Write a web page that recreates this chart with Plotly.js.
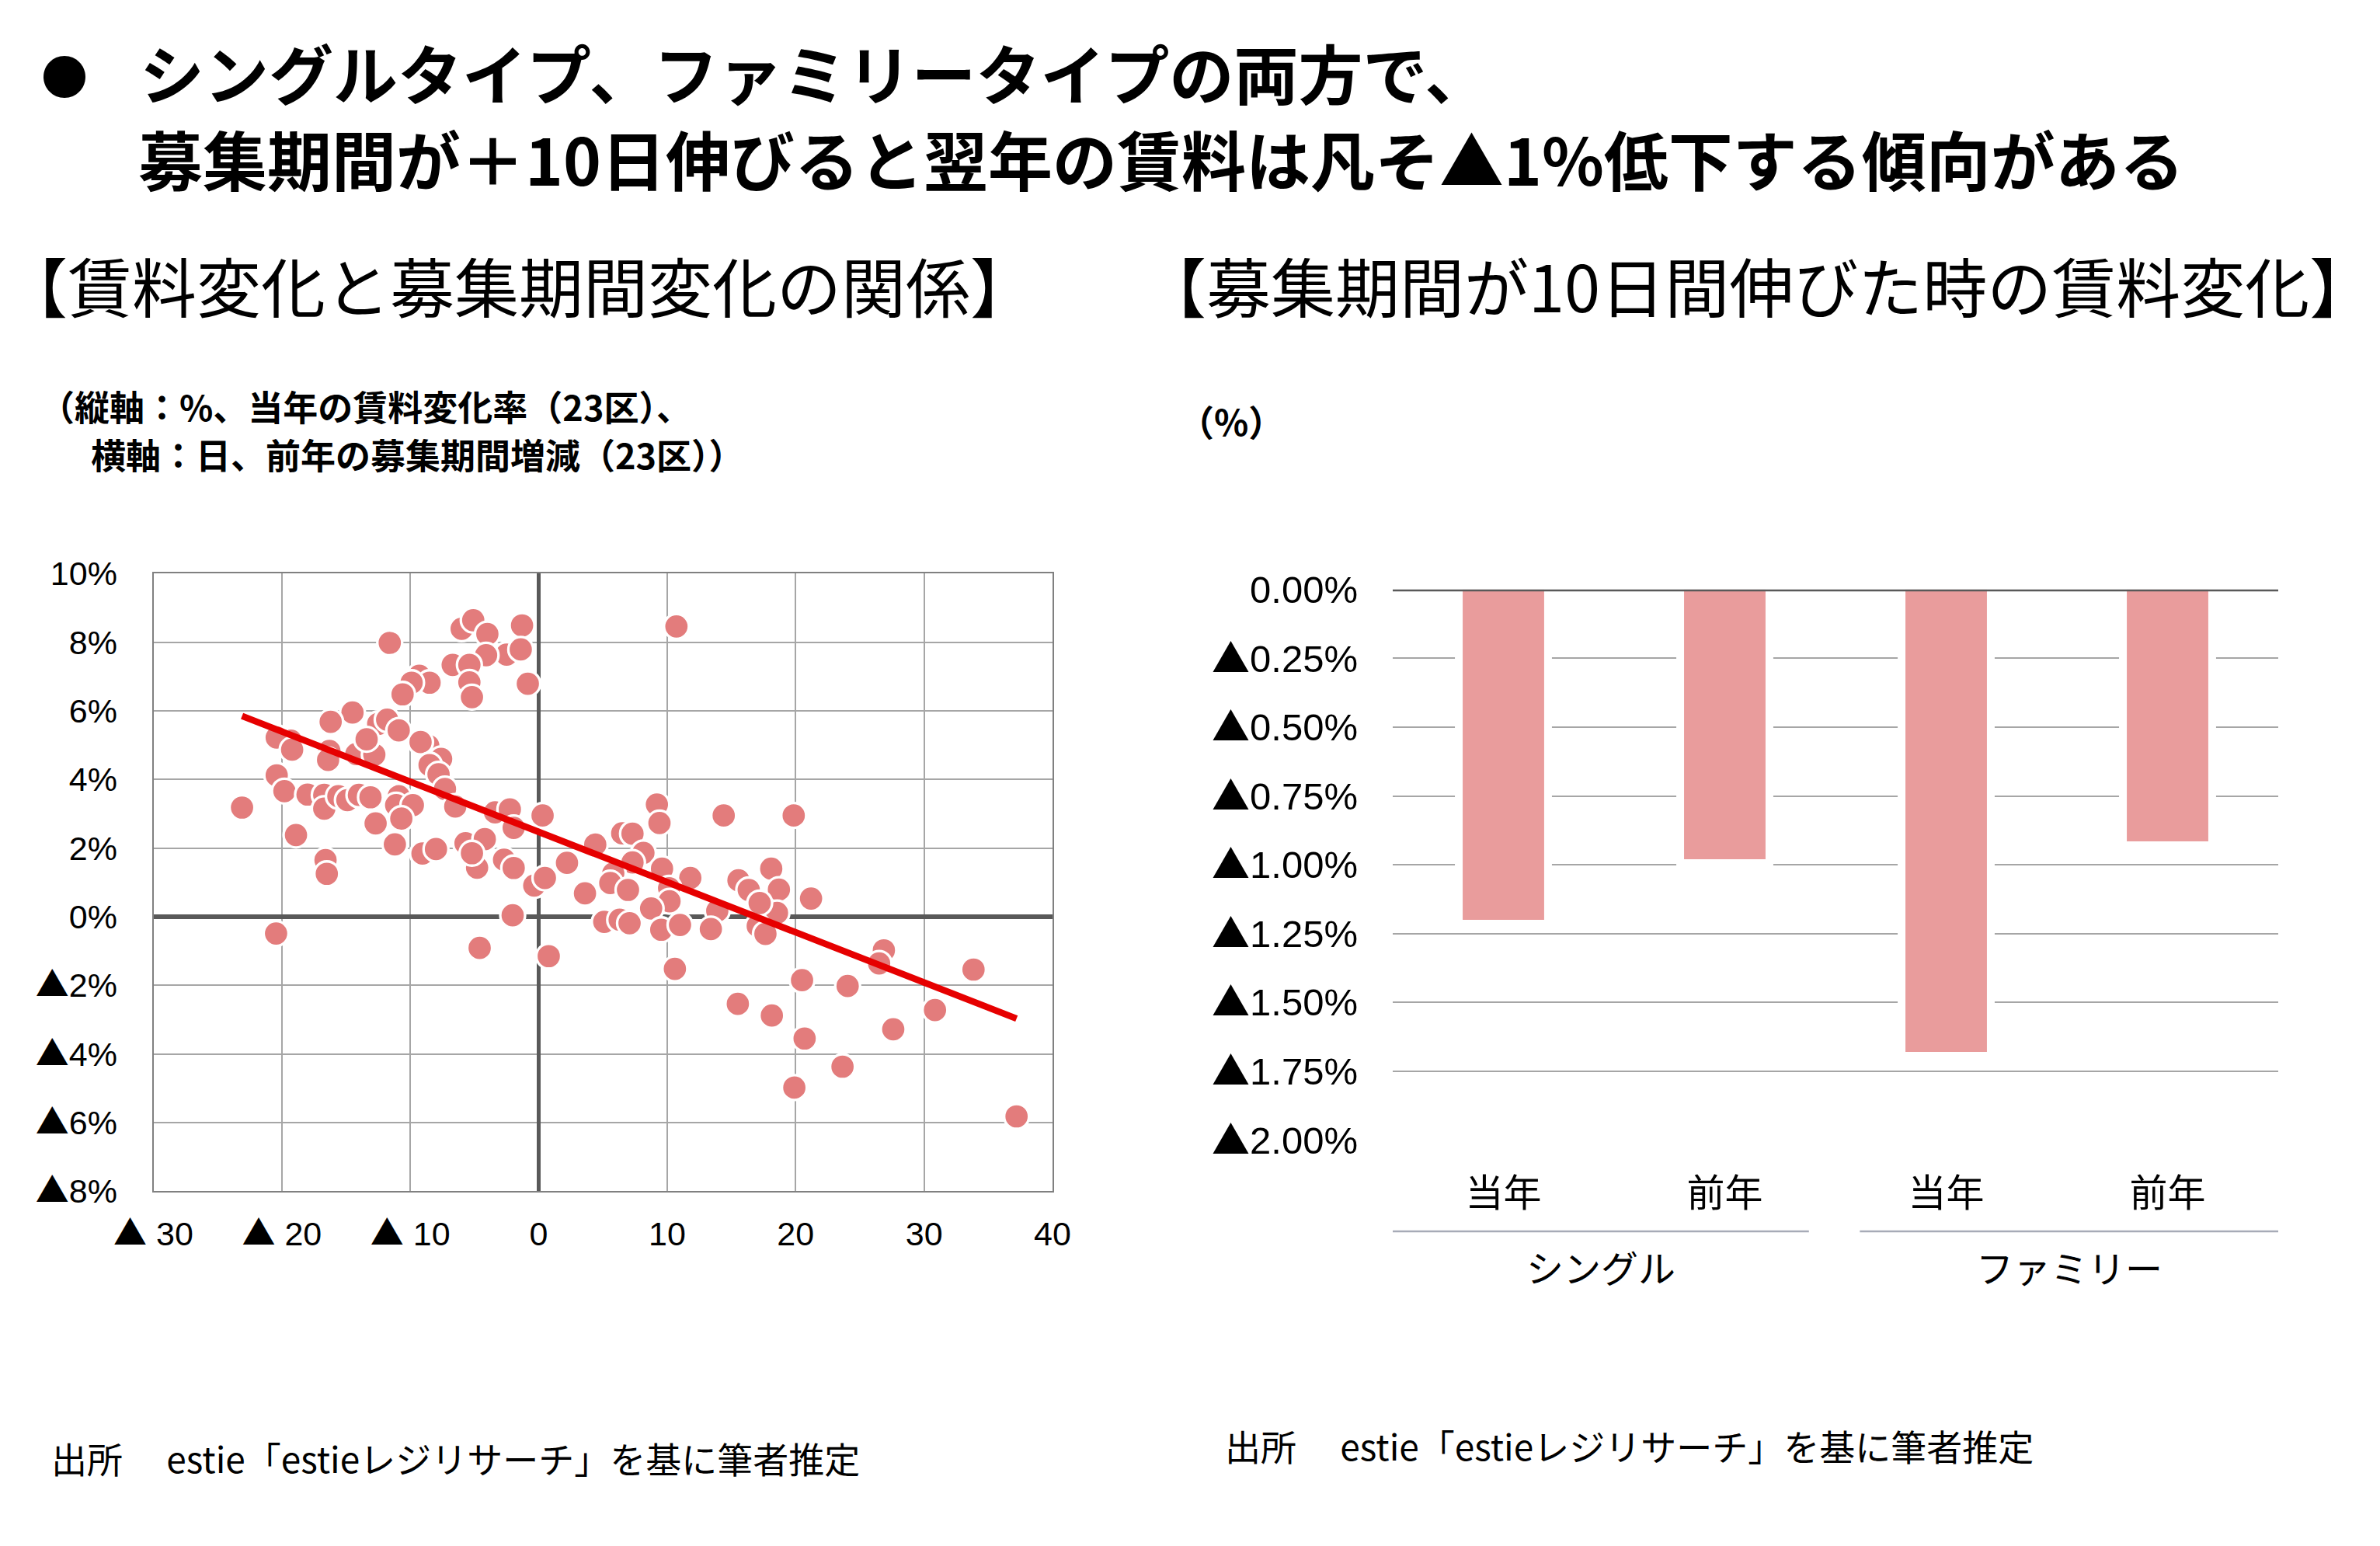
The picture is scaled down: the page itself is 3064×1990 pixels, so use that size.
<!DOCTYPE html>
<html>
<head>
<meta charset="utf-8">
<script src="https://cdn.plot.ly/plotly-3.0.1.min.js"></script>
<style>
html,body{margin:0;padding:0;background:#fff;}
#chart{width:3064px;height:1990px;}
</style>
</head>
<body>
<div id="chart"></div>
<script>
// ---------- Scatter: 前年の募集期間増減（日） vs 当年の賃料変化率（%） ----------
const scatterX = [
  -11.6, -6.0, -5.1, -4.0, -1.3, -2.5, -1.4, -4.1, -6.7, -5.4,
  -5.4, -5.2, -0.85, -9.3, -8.5, -9.9, -10.6, -14.5, -16.2, -12.5,
  -11.8, -10.9, -19.3, -20.4, -19.2, -16.3, -16.4, -14.2, -12.8, -13.4,
  -8.6, -9.2, -7.6, -8.5, -7.8, -7.3, -20.4, -19.8, -18.0, -16.7,
  -16.7, -15.6, -14.9, -14.0, -13.1, -23.1, -18.9, -16.6, -16.5, -12.7,
  -11.2, -10.9, -11.1, -9.8, -10.7, -9.05, -8.0, -6.5, -5.7, -4.2,
  -3.4, -2.25, -1.95, 0.3, -4.8, -2.7, -1.95, -5.2, -0.35, 0.48,
  2.2, -2.03, -20.45, -4.6, 0.78, 9.2, 9.4, 14.4, 19.85, 4.4,
  6.5, 7.3, 8.15, 7.3, 9.6, 5.8, 5.57, 6.95, 3.6, 11.8,
  10.15, 10.18, 8.75, 5.1, 6.3, 7.07, 9.54, 11.0, 13.9, 13.4,
  15.55, 16.35, 18.1, 18.7, 18.55, 17.05, 17.65, 21.2, 17.2, 10.6,
  20.5, 24.05, 26.87, 26.5, 15.5, 33.85, 30.85, 18.15, 27.6, 20.7,
  23.65, 19.9, 37.2, 10.72
];
const scatterY = [
  7.98, 8.39, 8.64, 8.24, 8.49, 7.64, 7.79, 7.62, 7.34, 7.34,
  6.83, 6.40, 6.79, 7.02, 6.82, 6.82, 6.48, 5.95, 5.68, 5.62,
  5.74, 5.43, 5.13, 5.22, 4.87, 4.83, 4.57, 4.74, 4.72, 5.17,
  4.98, 5.09, 4.60, 4.42, 4.15, 3.72, 4.12, 3.66, 3.56, 3.55,
  3.15, 3.51, 3.40, 3.55, 3.48, 3.18, 2.38, 1.65, 1.25, 2.72,
  2.11, 3.51, 3.25, 3.25, 2.86, 1.84, 1.97, 3.21, 2.14, 2.26,
  3.04, 3.13, 2.59, 2.95, 1.43, 1.66, 1.42, 1.85, 0.91, 1.13,
  1.57, 0.04, -0.49, -0.91, -1.15, 3.27, 2.73, 2.95, 2.95, 2.10,
  2.43, 2.42, 1.86, 1.58, 1.40, 1.26, 0.98, 0.78, 0.68, 1.13,
  0.83, 0.45, 0.24, -0.15, -0.09, -0.19, -0.38, -0.24, 0.17, -0.36,
  1.06, 0.78, 1.40, 0.79, 0.11, -0.27, -0.50, 0.53, 0.40, -1.52,
  -1.85, -2.02, -0.98, -1.36, -2.54, -1.54, -2.72, -2.88, -3.28, -3.55,
  -4.37, -4.98, -5.82, 8.46
];
// 近似直線の両端
const trendX = [-23.1, 37.2];
const trendY = [5.85, -2.97];

const scatterXTicks = [-30, -20, -10, 0, 10, 20, 30, 40];
const scatterYTicks = [10, 8, 6, 4, 2, 0, -2, -4, -6, -8];

// ---------- Bar: 募集期間が10日間伸びた時の賃料変化 ----------
const barGroups = ['シングル', 'シングル', 'ファミリー', 'ファミリー'];
const barLabels = ['当年', '前年', '当年', '前年'];
const barValues = [-1.20, -0.98, -1.68, -0.915];
const barYTicks = [0, -0.25, -0.5, -0.75, -1.0, -1.25, -1.5, -1.75, -2.0];

const TRI = '<span style="font-family:Noto Sans CJK JP">▲</span>';
const fmtX = v => v < 0 ? TRI + ' ' + Math.abs(v) : String(v);
const fmtY = v => v < 0 ? TRI + Math.abs(v) + '%' : v + '%';
const fmtB = v => v < 0 ? TRI + Math.abs(v).toFixed(2) + '%' : v.toFixed(2) + '%';

const NUM = 'Liberation Sans, Arial, Noto Sans CJK JP, sans-serif';
const JP = 'Noto Sans CJK JP, sans-serif';

const barIdx = barLabels.map((_, i) => i);

const traces = [
  {
    type: 'scatter', mode: 'markers', x: scatterX, y: scatterY,
    xaxis: 'x', yaxis: 'y', hoverinfo: 'skip',
    marker: { size: 32, color: '#E37C7C', line: { color: '#ffffff', width: 3.3 } }
  },
  {
    type: 'scatter', mode: 'lines', x: trendX, y: trendY,
    xaxis: 'x', yaxis: 'y', hoverinfo: 'skip',
    line: { color: '#E60000', width: 8.5 }
  },
  {
    type: 'bar', x: barIdx, y: barValues, xaxis: 'x2', yaxis: 'y2',
    width: 0.368, hoverinfo: 'skip',
    marker: { color: '#ffffff', line: { color: '#ffffff', width: 20 } }
  },
  {
    type: 'bar', x: barIdx, y: barValues, xaxis: 'x2', yaxis: 'y2',
    width: 0.368, hoverinfo: 'skip',
    marker: { color: '#E99C9C', line: { width: 0 } }
  }
];

const groupNames = [...new Set(barGroups)];

const annotations = [
  { text: '●', x: 83/3064, y: 1 - 95/1990, xanchor: 'center', yanchor: 'middle',
    font: { family: JP, size: 60, color: '#000' } },
  { text: '<b>シングルタイプ、ファミリータイプの両方で、</b>',
    x: 178/3064, y: 1 - 92/1990,
    xanchor: 'left', yanchor: 'middle', font: { family: JP, size: 83, color: '#000' } },
  { text: '<b>募集期間が＋10日伸びると翌年の賃料は凡そ▲1%低下する傾向がある</b>',
    x: 176/3064, y: 1 - 203/1990,
    xanchor: 'left', yanchor: 'middle', font: { family: JP, size: 83, color: '#000' } },
  { text: '【賃料変化と募集期間変化の関係】', x: 2/3064, y: 1 - 366/1990,
    xanchor: 'left', yanchor: 'middle', font: { family: JP, size: 83, color: '#000' } },
  { text: '【募集期間が10日間伸びた時の賃料変化】', x: 1468/3064, y: 1 - 366/1990,
    xanchor: 'left', yanchor: 'middle', font: { family: JP, size: 83, color: '#000' } },
  { text: '<b>（縦軸：%、当年の賃料変化率（23区）、</b>', x: 49/3064, y: 1 - 522/1990,
    xanchor: 'left', yanchor: 'middle', font: { family: JP, size: 45, color: '#000' } },
  { text: '<b>横軸：日、前年の募集期間増減（23区））</b>', x: 115/3064, y: 1 - 584/1990,
    xanchor: 'left', yanchor: 'middle', font: { family: JP, size: 45, color: '#000' } },
  { text: '<b>（%）</b>', x: 1515/3064, y: 1 - 541/1990,
    xanchor: 'left', yanchor: 'middle', font: { family: JP, size: 46, color: '#000' } },
  { text: '出所　 estie「estieレジリサーチ」を基に筆者推定', x: 64/3064, y: 1 - 1876/1990,
    xanchor: 'left', yanchor: 'middle', font: { family: JP, size: 46, color: '#000' } },
  { text: '出所　 estie「estieレジリサーチ」を基に筆者推定', x: 1575/3064, y: 1 - 1860/1990,
    xanchor: 'left', yanchor: 'middle', font: { family: JP, size: 46, color: '#000' } },
  { text: groupNames[0], xref: 'x2', yref: 'paper', x: 0.44, y: 1 - 1630/1990,
    xanchor: 'center', yanchor: 'middle', font: { family: JP, size: 48, color: '#000' } },
  { text: groupNames[1], xref: 'x2', yref: 'paper', x: 2.555, y: 1 - 1630/1990,
    xanchor: 'center', yanchor: 'middle', font: { family: JP, size: 48, color: '#000' } }
].map(a => Object.assign({ xref: 'paper', yref: 'paper', showarrow: false }, a));

const shapes = [
  { type: 'line', xref: 'x2 domain', yref: 'y2', x0: 0, x1: 1, y0: 0, y1: 0,
    layer: 'above', line: { color: '#595959', width: 5 } },
  { type: 'line', xref: 'x2', yref: 'paper', x0: -0.5, x1: 1.38, y0: 1 - 1585/1990, y1: 1 - 1585/1990,
    line: { color: '#A7ABB7', width: 2.5 } },
  { type: 'line', xref: 'x2', yref: 'paper', x0: 1.61, x1: 3.5, y0: 1 - 1585/1990, y1: 1 - 1585/1990,
    line: { color: '#A7ABB7', width: 2.5 } }
];

const layout = {
  width: 3064, height: 1990,
  margin: { l: 0, r: 0, t: 0, b: 0 },
  paper_bgcolor: '#ffffff', plot_bgcolor: '#ffffff',
  showlegend: false,
  barmode: 'overlay',
  xaxis: {
    domain: [197.5/3064, 1355/3064], range: [-30, 40], anchor: 'y',
    tickvals: scatterXTicks, ticktext: scatterXTicks.map(fmtX),
    tickfont: { family: NUM, size: 43, color: '#000' },
    ticks: '', ticklabelstandoff: 16,
    showgrid: true, gridcolor: '#A6A6A6', gridwidth: 2,
    zeroline: true, zerolinecolor: '#595959', zerolinewidth: 5.5,
    showline: true, mirror: true, linecolor: '#808080', linewidth: 2,
    fixedrange: true
  },
  yaxis: {
    domain: [1 - 1533.3/1990, 1 - 738.3/1990], range: [-8, 10], anchor: 'x',
    tickvals: scatterYTicks, ticktext: scatterYTicks.map(fmtY),
    tickfont: { family: NUM, size: 43, color: '#000' },
    ticks: '', ticklabelstandoff: 36,
    showgrid: true, gridcolor: '#A6A6A6', gridwidth: 2,
    zeroline: true, zerolinecolor: '#595959', zerolinewidth: 5.5,
    showline: true, mirror: true, linecolor: '#808080', linewidth: 2,
    fixedrange: true
  },
  xaxis2: {
    domain: [1793/3064, 2933/3064], range: [-0.5, 3.5], anchor: 'y2',
    tickvals: barIdx, ticktext: barLabels,
    tickfont: { family: JP, size: 49, color: '#000' },
    ticks: '', ticklabelstandoff: 36,
    showgrid: false, zeroline: false, showline: false, fixedrange: true
  },
  yaxis2: {
    domain: [1 - 1467.4/1990, 1 - 758.8/1990], range: [-2, 0], anchor: 'x2',
    tickvals: barYTicks, ticktext: barYTicks.map(fmtB),
    tickfont: { family: NUM, size: 49, color: '#000' },
    ticks: '', ticklabelstandoff: 44,
    showgrid: true, gridcolor: '#A6A6A6', gridwidth: 2,
    zeroline: false, showline: false, fixedrange: true
  },
  annotations: annotations,
  shapes: shapes
};

Plotly.newPlot('chart', traces, layout, { displayModeBar: false, staticPlot: true });
</script>
</body>
</html>
